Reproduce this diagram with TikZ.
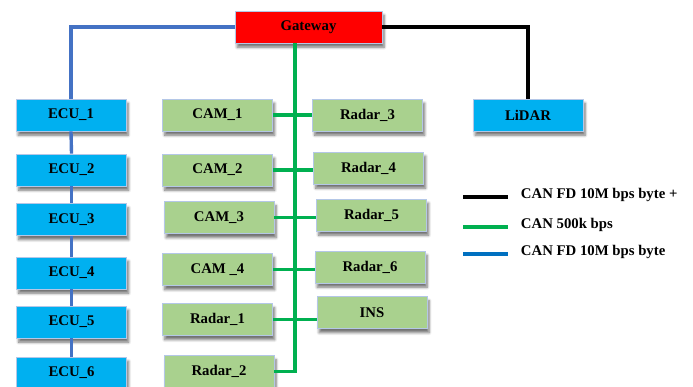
\documentclass[tikz,border=0pt]{standalone}
\usepackage{fontspec}
\setmainfont{Liberation Serif}
\usetikzlibrary{shadows.blur}
\definecolor{ecublue}{HTML}{00B0F0}
\definecolor{camgreen}{HTML}{A9D18E}
\definecolor{gwred}{HTML}{FF0000}
\definecolor{busgreen}{HTML}{00B050}
\definecolor{fdblue}{HTML}{4472C4}
\definecolor{legblue}{HTML}{0070C0}
\definecolor{boxedge}{HTML}{B4C7E7}

\begin{document}
\begin{tikzpicture}[x=0.025cm,y=-0.025cm,
        box/.style={draw=boxedge,line width=0.6pt,minimum width=2.75cm,minimum height=0.8cm,
          font=\fontsize{10.5}{12}\selectfont\bfseries,
          blur shadow={shadow xshift=1.5pt,shadow yshift=-3pt,shadow blur steps=6,shadow opacity=55}},
        ecubox/.style={box,fill=ecublue},
        sensbox/.style={box,fill=camgreen},
        fdline/.style={line width=3pt,black},
        canline/.style={line width=2.8pt,busgreen},
        fdbline/.style={line width=2.4pt,fdblue}]
        \useasboundingbox (0,0) rectangle (693,387);
        \node[box,fill=gwred,minimum width=3.675cm] (gw) at (308.5,27) {Gateway};
        \node[ecubox] (lidar) at (528,115) {LiDAR};
        \foreach \Point/\Name/\Label in {(71,115)/ecu1/ECU\_1, (71.5,170)/ecu2/ECU\_2,
            (71.5,219.5)/ecu3/ECU\_3, (71.5,273)/ecu4/ECU\_4, (71.5,322)/ecu5/ECU\_5,
            (71.5,373)/ecu6/ECU\_6}
        \node[ecubox] (\Name) at \Point {\Label};
        \foreach \Point/\Name/\Label in {(217.5,115)/cam1/CAM\_1, (217.5,170)/cam2/CAM\_2,
            (219,217.5)/cam3/CAM\_3, (217.5,269.5)/cam4/CAM \_4, (217.5,319.5)/rad1/Radar\_1,
            (219,371.5)/rad2/Radar\_2, (367.5,115)/rad3/Radar\_3, (368.5,168)/rad4/Radar\_4,
            (371.5,215)/rad5/Radar\_5, (370,267)/rad6/Radar\_6, (372,312.5)/ins/INS}
        \node[sensbox] (\Name) at \Point {\Label};
        % buses
        \coordinate (bus) at (295,43);
        \draw[fdbline] (gw.west) -| (ecu1.north);
        \foreach \a/\b in {ecu1/ecu2, ecu2/ecu3, ecu3/ecu4, ecu4/ecu5, ecu5/ecu6}
        \draw[fdbline] (\a.south) -- (\b.north);
        \draw[fdline] (gw.east) -| (lidar.north);
        \draw[canline] (gw.south -| bus) -- (bus |- rad2) -- (rad2.east);
        \foreach \a/\b in {cam1/rad3, cam2/rad4, cam3/rad5, cam4/rad6, rad1/ins}
        \draw[canline] (\a.east) -- (\a.east -| \b.west);
        % legend
        \draw[fdline] (463,197) -- (508,197);
        \draw[canline] (463,227) -- (508,227);
        \draw[line width=2.8pt,legblue] (463,254) -- (508,254);
        \foreach \Point/\Name/\Label in {(516,195)/leg1/CAN FD 10M bps byte +,
            (516,225)/leg2/CAN 500k bps, (516,252)/leg3/CAN FD 10M bps byte}
        \node[anchor=west,font=\fontsize{10.5}{12}\selectfont\bfseries] (\Name) at \Point {\Label};
\end{tikzpicture}
\end{document}
